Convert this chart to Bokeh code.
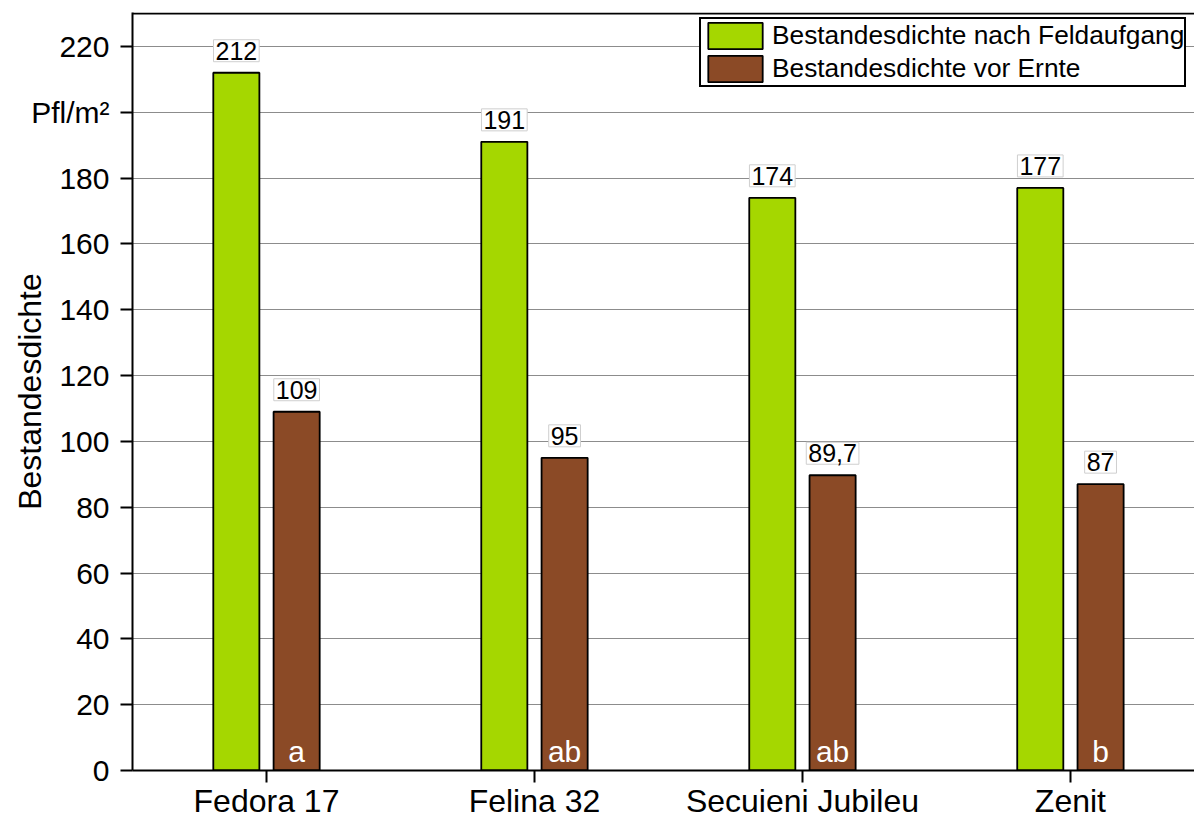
from bokeh.plotting import figure
from bokeh.models import Range1d, FixedTicker, ColumnDataSource, Legend, LegendItem, Span
from bokeh.core.properties import value
from bokeh.embed import file_html
from bokeh.resources import INLINE

categories = ["Fedora 17", "Felina 32", "Secuieni Jubileu", "Zenit"]
series_names = ["Bestandesdichte nach Feldaufgang", "Bestandesdichte vor Ernte"]
feldaufgang = [212, 191, 174, 177]
ernte = [109, 95, 89.7, 87]
feldaufgang_labels = ["212", "191", "174", "177"]
ernte_labels = ["109", "95", "89,7", "87"]
letters = ["a", "ab", "ab", "b"]
y_ticks = [0, 20, 40, 60, 80, 100, 120, 140, 160, 180, 200, 220]
y_label_overrides = {200: "Pfl/m²"}

FONT = "Liberation Sans"
GREEN = "#a5d700"
BROWN = "#8b4a26"

x = list(range(1, len(categories) + 1))
off = 0.1125
bw = 0.172

src = ColumnDataSource(dict(
    xg=[v - off for v in x], xb=[v + off for v in x],
    g=feldaufgang, b=ernte, gl=feldaufgang_labels, bl=ernte_labels,
    let=letters, zero=[0] * len(x),
))

p = figure(width=1194, height=821, output_backend="svg", toolbar_location=None,
           x_range=Range1d(0.5, 4.463), y_range=Range1d(0, 230.3),
           min_border_left=132, min_border_right=0, min_border_top=12, min_border_bottom=10)
p.background_fill_color = "white"
p.border_fill_color = "white"
p.outline_line_color = None

p.xgrid.grid_line_color = None
p.ygrid.grid_line_color = "#8c8c8c"
p.ygrid.grid_line_width = 1
p.ygrid.ticker = FixedTicker(ticks=y_ticks)

rg = p.vbar(x="xg", top="g", width=bw, source=src, fill_color=GREEN, line_color="black", line_width=1.8)
rb = p.vbar(x="xb", top="b", width=bw, source=src, fill_color=BROWN, line_color="black", line_width=1.8)

common = dict(text_font=value(FONT), text_font_size="25px", text_color="black",
              text_align="center", text_baseline="bottom",
              background_fill_color="white", border_line_color="#cfcfcf", border_line_width=1,
              padding=2)
p.text(x="xg", y="g", text="gl", source=src, y_offset=-11, **common)
p.text(x="xb", y="b", text="bl", source=src, y_offset=-11, **common)
p.text(x="xb", y="zero", text="let", source=src, y_offset=-3, text_font=value(FONT),
       text_font_size="30px", text_color="white", text_align="center", text_baseline="bottom")

p.add_layout(Span(location=230, dimension="width", line_color="black", line_width=2))

# axes
xa = p.xaxis[0]
xa.ticker = FixedTicker(ticks=x)
xa.major_label_overrides = {i: c for i, c in zip(x, categories)}
xa.minor_tick_line_color = None
xa.major_tick_out = 12
xa.major_tick_in = 0
xa.axis_line_width = 2
xa.major_tick_line_width = 2
xa.major_label_standoff = 0
xa.major_label_text_font = FONT
xa.major_label_text_font_size = "32px"
xa.major_label_text_color = "black"

ya = p.yaxis[0]
ya.ticker = FixedTicker(ticks=y_ticks)
ya.major_label_overrides = y_label_overrides
ya.minor_tick_line_color = None
ya.major_tick_out = 12
ya.major_tick_in = 0
ya.axis_line_width = 2
ya.major_tick_line_width = 2
ya.major_label_standoff = 11
ya.major_label_text_font = FONT
ya.major_label_text_font_size = "30px"
ya.major_label_text_color = "black"
ya.axis_label = "Bestandesdichte"
ya.axis_label_text_font = FONT
ya.axis_label_text_font_size = "32px"
ya.axis_label_text_font_style = "normal"
ya.axis_label_text_color = "black"
ya.axis_label_standoff = -20

legend = Legend(items=[LegendItem(label=series_names[0], renderers=[rg]),
                       LegendItem(label=series_names[1], renderers=[rb])],
                location=(567, 683), margin=0, padding=0, spacing=0,
                glyph_width=68, glyph_height=33, label_standoff=3,
                label_text_font=FONT, label_text_font_size="26.3px", label_text_color="black",
                border_line_color="black", border_line_width=2, border_line_alpha=1.0,
                background_fill_color="white", background_fill_alpha=1.0)
p.add_layout(legend)

open("out.html", "w").write(file_html(p, INLINE))
